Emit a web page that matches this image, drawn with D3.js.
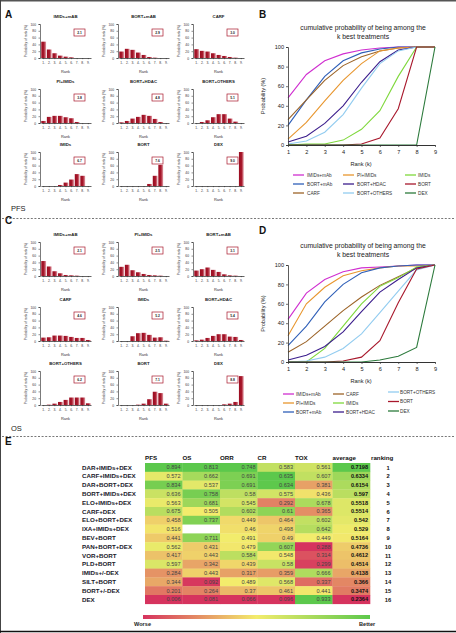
<!DOCTYPE html>
<html><head><meta charset="utf-8">
<script src="https://cdn.jsdelivr.net/npm/d3@7"></script>
<style>
html,body{margin:0;padding:0;background:#fff;}
svg{display:block;font-family:"Liberation Sans",Arial,sans-serif;}
</style></head>
<body><svg id="c" width="456" height="633"></svg>
<script>
// ---------- DATA ----------
const ranks = [1,2,3,4,5,6,7,8,9];
// Panel A (PFS) rank probabilities
const pfsTreatments = ["IMIDs+mAB","BORT+mAB","CARF","PI+IMIDs","BORT+HDAC","BORT+OTHERS","IMIDs","BORT","DEX"];
const pfsBars = [
  [48,25,14,7,4,2,0,0,0],
  [19,27,24,16,9,3,1,0,0],
  [26,21,19,14,9,6,3,1,0],
  [6,18,21,21,17,14,3,0,0],
  [2,6,13,18,24,21,12,3,0],
  [0,3,8,17,26,26,13,4,0],
  [0,0,0,3,10,19,35,30,0],
  [0,0,0,0,0,6,30,62,0],
  [0,0,0,0,0,0,0,0,100]
];
const pfsMeanRank = ["2.1","2.9","3.0","3.8","4.8","5.1","6.7","7.6","9.0"];
// Panel C (OS) rank probabilities
const osTreatments = ["IMIDs+mAB","PI+IMIDs","BORT+mAB","CARF","IMIDs","BORT+HDAC","BORT+OTHERS","BORT","DEX"];
const osBars = [
  [44,28,14,8,3,2,1,0,0],
  [27,33,17,11,6,3,2,1,0],
  [16,20,25,18,12,5,2,1,0],
  [10,11,16,16,15,12,9,9,3],
  [0,0,14,23,24,18,10,11,1],
  [2,4,9,15,20,20,13,12,3],
  [0,1,4,9,15,22,22,22,5],
  [0,0,0,1,4,17,39,35,4],
  [0,0,0,0,0,2,4,9,85]
];
const osMeanRank = ["2.1","2.5","3.1","4.6","5.2","5.4","6.2","7.1","8.8"];
// Panel B cumulative (PFS)
const cumNamesB = ["IMIDs+mAb","BORT+mAb","CARF","PI+IMIDs","BORT+HDAC","BORT+OTHERS","IMIDs","BORT","DEX"];
const cumPFS = [
  [48,72,86,93,97,99,100,100,100],
  [20,46,70,86,94,98,100,100,100],
  [26,46,66,81,90,96,99,100,100],
  [6,23,45,66,83,96,99,100,100],
  [3,9,22,40,64,85,97,100,100],
  [1,4,13,31,58,83,96,100,100],
  [0,1,1,5,16,35,70,100,100],
  [0,0,0,0,1,7,37,100,100],
  [0,0,0,0,0,0,0,0,100]
];
// Panel D cumulative (OS)
const cumNamesD = ["IMIDs+mAb","PI+IMIDs","BORT+mAb","CARF","IMIDs","BORT+HDAC","BORT+OTHERS","BORT","DEX"];
const cumOS = [
  [44,71,85,93,97,98,99,100,100],
  [27,60,77,89,94,97,99,99,100],
  [17,37,62,80,92,97,99,100,100],
  [10,21,37,53,67,79,88,97,100],
  [0,0,14,37,60,78,87,98,100],
  [2,7,16,31,52,72,85,97,100],
  [0,1,5,14,29,51,73,95,100],
  [0,0,0,1,5,22,61,96,100],
  [0,0,0,0,0,2,6,15,100]
];
const seriesColors = {
  "IMIDs+mAb":"#d02fd0","BORT+mAb":"#2f5fb8","CARF":"#9c6428","PI+IMIDs":"#e8962e",
  "BORT+HDAC":"#3b1d8c","BORT+OTHERS":"#92ccf0","IMIDs":"#7fd83c","BORT":"#a8182c","DEX":"#2c7a3c"
};
// Panel E table
const tableRows = ["DAR+IMIDs+DEX","CARF+IMIDs+DEX","DAR+BORT+DEX","BORT+IMIDs+DEX","ELO+IMIDs+DEX","CARF+DEX","ELO+BORT+DEX","IXA+IMIDs+DEX","BEV+BORT","PAN+BORT+DEX","VOR+BORT","PLD+BORT","IMIDs+/-DEX","SILT+BORT","BORT+/-DEX","DEX"];
const colPFS = ["0.894","0.572","0.834","0.636","0.563","0.675","0.458","0.516","0.441","0.562","0.417","0.597","0.284","0.344","0.201","0.006"];
const colOS  = ["0.813","0.662","0.537","0.758","0.681","0.505","0.737","","0.711","0.431","0.443","0.342","0.443","0.092","0.264","0.081"];
const colORR = ["0.748","0.691","0.691","0.58","0.545","0.602","0.449","0.46","0.491","0.479","0.584","0.439","0.317","0.489","0.37","0.066"];
const colCR  = ["0.583","0.635","0.634","0.575","0.292","0.61","0.464","0.498","0.49","0.607","0.548","0.58","0.359","0.568","0.461","0.096"];
const colTOX = ["0.561","0.607","0.381","0.436","0.678","0.365","0.602","0.642","0.449","0.288","0.314","0.299","0.666","0.337","0.441","0.933"];
const colAVG = ["0.7198","0.6334","0.6154","0.597","0.5518","0.5514","0.542","0.529","0.5164","0.4736","0.4612","0.4514","0.4138","0.366","0.3474","0.2364"];
const ranking = ["1","2","3","4","5","6","7","8","9","10","11","12","13","14","15","16"];
const tableHeaders = ["PFS","OS","ORR","CR","TOX","average"];

// ---------- DRAW ----------
const svg = d3.select("#c");
const FONT = '"Liberation Sans",Arial,sans-serif';
const defs = svg.append("defs");
const g1 = defs.append("linearGradient").attr("id","barGrad").attr("x1","0").attr("x2","1").attr("y1","0").attr("y2","0");
g1.append("stop").attr("offset","0%").attr("stop-color","#9a0b20");
g1.append("stop").attr("offset","55%").attr("stop-color","#a8192c");
g1.append("stop").attr("offset","100%").attr("stop-color","#e3a0aa");

// frame
svg.append("line").attr("x1",0).attr("x2",456).attr("y1",0.75).attr("y2",0.75).attr("stroke","#555").attr("stroke-width",1.5);
svg.append("line").attr("x1",0.5).attr("x2",0.5).attr("y1",0).attr("y2",633).attr("stroke","#444").attr("stroke-width",1);
svg.append("line").attr("x1",0).attr("x2",456).attr("y1",631.5).attr("y2",631.5).attr("stroke","#111").attr("stroke-width",1.5);

function panelLetter(t,x,y){
  svg.append("text").attr("x",x).attr("y",y).text(t).attr("font-size",10).attr("font-weight","bold").attr("fill","#111");
}
panelLetter("A",5,18); panelLetter("B",259,18); panelLetter("C",5,224); panelLetter("D",259,234); panelLetter("E",5,445);

// dashed separators
[218.5,436.5].forEach(y=>{
  svg.append("line").attr("x1",2).attr("x2",454).attr("y1",y).attr("y2",y)
    .attr("stroke","#555").attr("stroke-width",0.8).attr("stroke-dasharray","2,1.6");
});
svg.append("text").attr("x",11).attr("y",211).text("PFS").attr("font-size",7.5).attr("fill","#222");
svg.append("text").attr("x",11).attr("y",431).text("OS").attr("font-size",7.5).attr("fill","#222");

// small multiples
const colX = [40,118,193];
function smallMultiples(treat, bars, means, rowTops){
  treat.forEach((name,i)=>{
    const r = Math.floor(i/3), c = i%3;
    const x0 = colX[c], top = rowTops[r], h = 34, w = 51;
    const g = svg.append("g");
    const xs = d3.scaleBand().domain(ranks).range([x0+1, x0+w]).paddingInner(0.14).paddingOuter(0.05);
    const ys = d3.scaleLinear().domain([0,100]).range([top+h, top]);
    g.selectAll("rect.bar").data(bars[i]).join("rect").attr("class","bar")
      .attr("x",(d,j)=>xs(ranks[j])).attr("width",xs.bandwidth())
      .attr("y",d=>ys(d)).attr("height",d=>ys(0)-ys(d)).attr("fill","url(#barGrad)");
    const ya = g.append("g").attr("transform",`translate(${x0},0)`)
      .call(d3.axisLeft(ys).tickValues([0,20,40,60,80,100]).tickSize(1.5).tickPadding(2.5));
    ya.selectAll("text").attr("font-size",3.3).attr("font-family",FONT).attr("fill","#333");
    ya.select(".domain").attr("stroke","#222").attr("stroke-width",0.6);
    ya.selectAll(".tick line").attr("stroke","#222").attr("stroke-width",0.5);
    const xa = g.append("g").attr("transform",`translate(0,${top+h})`)
      .call(d3.axisBottom(xs).tickFormat(d=>d+".").tickSize(1.2).tickPadding(2.5).tickSizeOuter(0));
    xa.selectAll("text").attr("font-size",3.3).attr("font-family",FONT).attr("fill","#333");
    xa.select(".domain").attr("stroke","#222").attr("stroke-width",0.7);
    xa.selectAll(".tick line").attr("stroke","#222").attr("stroke-width",0.5);
    g.append("text").attr("x",x0+w/2).attr("y",top-6).attr("text-anchor","middle")
      .text(name).attr("font-size",4.3).attr("font-weight","bold").attr("fill","#222");
    g.append("text").attr("x",x0+w/2).attr("y",top+h+15).attr("text-anchor","middle")
      .text("Rank").attr("font-size",3.9).attr("fill","#333");
    g.append("text").attr("transform",`translate(${x0-13},${top+h/2}) rotate(-90)`).attr("text-anchor","middle")
      .text("Probability of rank (%)").attr("font-size",3.3).attr("fill","#333");
    g.append("rect").attr("x",x0+34).attr("y",top+5).attr("width",11).attr("height",7)
      .attr("fill","#fff").attr("stroke","#a8192c").attr("stroke-width",0.7);
    g.append("text").attr("x",x0+39.5).attr("y",top+9.9).attr("text-anchor","middle")
      .text(means[i]).attr("font-size",3.3).attr("font-weight","bold").attr("fill","#222");
  });
}
smallMultiples(pfsTreatments, pfsBars, pfsMeanRank, [24,89,152]);
smallMultiples(osTreatments, osBars, osMeanRank, [242,307,371]);

// cumulative panels
function cumPanel(names, data, top, bottom, titleY, legendCols, legendRowsY){
  const g = svg.append("g");
  const xs = d3.scaleLinear().domain([1,9]).range([288,435]);
  const ys = d3.scaleLinear().domain([0,100]).range([bottom, top]);
  g.append("text").attr("x",363).attr("y",titleY).attr("text-anchor","middle")
    .text("cumulative probability of being among the").attr("font-size",6.8).attr("fill","#222");
  g.append("text").attr("x",363).attr("y",titleY+9.5).attr("text-anchor","middle")
    .text("k best treatments").attr("font-size",6.8).attr("fill","#222");
  const line = d3.line().x((d,j)=>xs(ranks[j])).y(d=>ys(d));
  names.forEach((n,i)=>{
    g.append("path").attr("d",line(data[i])).attr("fill","none").attr("stroke",seriesColors[n]).attr("stroke-width",1.1);
  });
  const ya = g.append("g").attr("transform","translate(288,0)")
    .call(d3.axisLeft(ys).tickValues([0,20,40,60,80,100]).tickSize(2).tickPadding(2));
  ya.selectAll("text").attr("font-size",5.6).attr("font-family",FONT).attr("fill","#222");
  ya.select(".domain").attr("stroke","#333").attr("stroke-width",0.8);
  ya.selectAll(".tick line").attr("stroke","#333").attr("stroke-width",0.7);
  const xa = g.append("g").attr("transform",`translate(0,${bottom})`)
    .call(d3.axisBottom(xs).tickValues(ranks).tickFormat(d3.format("d")).tickSize(2).tickPadding(3).tickSizeOuter(0));
  xa.selectAll("text").attr("font-size",5.6).attr("font-family",FONT).attr("fill","#222");
  xa.select(".domain").attr("stroke","#333").attr("stroke-width",1);
  xa.selectAll(".tick line").attr("stroke","#333").attr("stroke-width",0.7);
  g.append("text").attr("transform",`translate(265,${(top+bottom)/2}) rotate(-90)`).attr("text-anchor","middle")
    .text("Probability (%)").attr("font-size",5.6).attr("fill","#222");
  g.append("text").attr("x",361).attr("y",bottom+21).attr("text-anchor","middle")
    .text("Rank (k)").attr("font-size",5.6).attr("fill","#222");
  names.forEach((n,i)=>{
    const c = Math.floor(i/3), r = i%3;
    const lx = legendCols[c][0], tx = legendCols[c][1], ly = legendRowsY[c][r];
    g.append("line").attr("x1",lx).attr("x2",lx+11).attr("y1",ly).attr("y2",ly).attr("stroke",seriesColors[n]).attr("stroke-width",1.3);
    g.append("text").attr("x",tx).attr("y",ly+1.7).text(n).attr("font-size",4.7).attr("fill","#333");
  });
}
cumPanel(cumNamesB, cumPFS, 47, 145, 29.5,
  [[293,307],[343,357],[405,418]], [[175,184,193],[175,184,193],[175,184,193]]);
cumPanel(cumNamesD, cumOS, 265, 362, 247.5,
  [[283,296],[333,346],[388,400]], [[394,403,412],[394,403,412],[392,401.5,411]]);

// table
const cols = [colPFS,colOS,colORR,colCR,colTOX,colAVG];
const cellX0 = 145, cellW = 37.5, rowTop = 463, rowH = 8.8;
const RED="#d6335e", YEL="#f3ec6c", GRN="#5cc84c";
cols.forEach((col,ci)=>{
  const vals = col.filter(v=>v!=="").map(Number);
  const sorted = vals.slice().sort(d3.ascending);
  const sc = d3.scaleLinear().domain([d3.min(vals), d3.median(sorted), d3.max(vals)]).range([RED,YEL,GRN]);
  const x = cellX0 + ci*cellW;
  svg.append("text").attr("x",x).attr("y",460).text(tableHeaders[ci]).attr("font-size",6.2).attr("font-weight","bold").attr("fill","#111");
  col.forEach((v,ri)=>{
    const y = rowTop + ri*rowH;
    svg.append("rect").attr("x",x).attr("y",y).attr("width",cellW+0.3).attr("height",rowH+0.3)
      .attr("fill", v===""?"#fff":sc(+v));
    if(v!==""){
      svg.append("text").attr("x",x+cellW-2).attr("y",y+6.3).attr("text-anchor","end").text(v)
        .attr("font-size",5.6).attr("fill", ci===5?"#111":"#444").attr("font-weight",ci===5?"bold":"normal");
    }
  });
});
svg.append("text").attr("x",371).attr("y",460).text("ranking").attr("font-size",6.2).attr("font-weight","bold").attr("fill","#111");
tableRows.forEach((n,ri)=>{
  const y = rowTop + ri*rowH;
  svg.append("text").attr("x",82).attr("y",y+6.5).text(n).attr("font-size",6.2).attr("font-weight","bold").attr("fill","#1a1a2a");
  svg.append("text").attr("x",388).attr("y",y+6.5).attr("text-anchor","middle").text(ranking[ri]).attr("font-size",5.8).attr("font-weight","bold").attr("fill","#111");
});
// color bar
const cg = defs.append("linearGradient").attr("id","cbar").attr("x1","0").attr("x2","1");
cg.append("stop").attr("offset","0%").attr("stop-color",RED);
cg.append("stop").attr("offset","50%").attr("stop-color",YEL);
cg.append("stop").attr("offset","100%").attr("stop-color",GRN);
svg.append("rect").attr("x",143).attr("y",615).attr("width",227).attr("height",4).attr("fill","url(#cbar)");
svg.append("text").attr("x",134).attr("y",625.5).text("Worse").attr("font-size",5.6).attr("font-weight","bold").attr("fill","#222");
svg.append("text").attr("x",359).attr("y",625.5).text("Better").attr("font-size",5.6).attr("font-weight","bold").attr("fill","#222");
</script></body></html>
